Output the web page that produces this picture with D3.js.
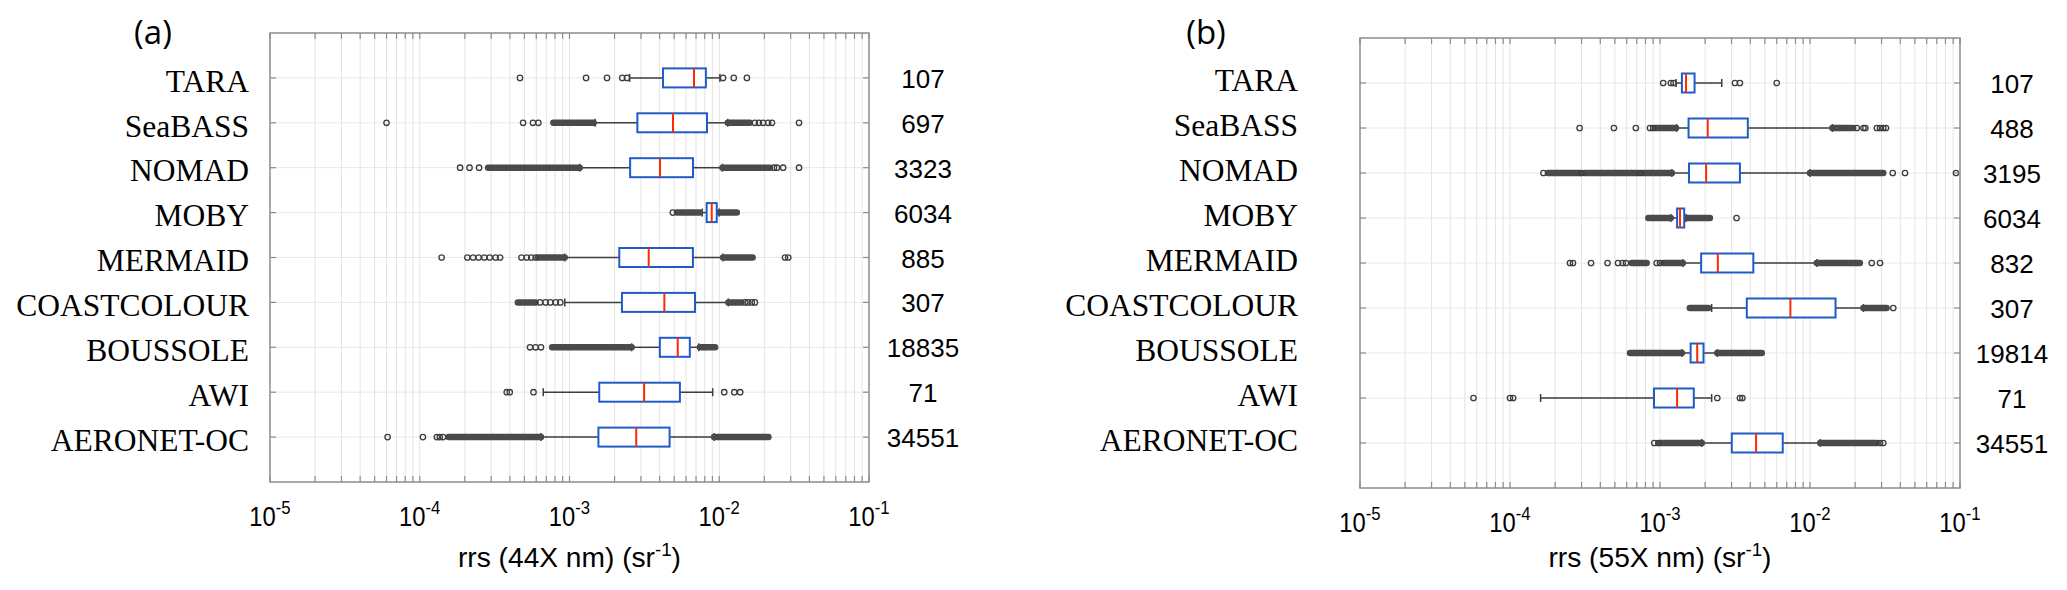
<!DOCTYPE html>
<html>
<head>
<meta charset="utf-8">
<script src="https://cdn.jsdelivr.net/npm/d3@7"></script>
<style>
  body { margin: 0; background: #fff; }
  svg { display: block; }
</style>
</head>
<body>
<div id="chart"></div>
<script>
// Station names, top to bottom
const stations = ["TARA", "SeaBASS", "NOMAD", "MOBY", "MERMAID", "COASTCOLOUR", "BOUSSOLE", "AWI", "AERONET-OC"];

// Number of match-ups per station
const countsA = [107, 697, 3323, 6034, 885, 307, 18835, 71, 34551];
const countsB = [107, 488, 3195, 6034, 832, 307, 19814, 71, 34551];

// [lower whisker, Q1, median, Q3, upper whisker] per station, rrs (sr^-1)
const boxA = [
  [2.52e-3, 4.21e-3, 6.78e-3, 8.14e-3, 1.01e-2],
  [1.48e-3, 2.84e-3, 4.91e-3, 8.28e-3, 1.14e-2],
  [1.17e-3, 2.54e-3, 4.02e-3, 6.68e-3, 1.05e-2],
  [7.70e-3, 8.24e-3, 8.91e-3, 9.62e-3, 1.00e-2],
  [9.30e-4, 2.15e-3, 3.38e-3, 6.67e-3, 1.06e-2],
  [9.30e-4, 2.24e-3, 4.30e-3, 6.89e-3, 1.15e-2],
  [2.60e-3, 4.01e-3, 5.28e-3, 6.36e-3, 7.30e-3],
  [6.68e-4, 1.58e-3, 3.15e-3, 5.46e-3, 9.04e-3],
  [6.45e-4, 1.56e-3, 2.79e-3, 4.66e-3, 9.23e-3]
];
const boxB = [
  [1.28e-3, 1.40e-3, 1.49e-3, 1.70e-3, 2.58e-3],
  [1.29e-3, 1.55e-3, 2.08e-3, 3.85e-3, 1.41e-2],
  [1.20e-3, 1.56e-3, 2.03e-3, 3.41e-3, 1.00e-2],
  [1.18e-3, 1.30e-3, 1.36e-3, 1.45e-3, 1.49e-3],
  [1.42e-3, 1.88e-3, 2.43e-3, 4.19e-3, 1.11e-2],
  [2.21e-3, 3.79e-3, 7.40e-3, 1.48e-2, 2.27e-2],
  [1.40e-3, 1.60e-3, 1.77e-3, 1.95e-3, 2.41e-3],
  [1.60e-4, 9.12e-4, 1.30e-3, 1.68e-3, 2.21e-3],
  [1.90e-3, 3.01e-3, 4.37e-3, 6.58e-3, 1.17e-2]
];

// single outliers
const outliersA = [
  [4.67e-4, 1.29e-3, 1.78e-3, 2.25e-3, 2.42e-3, 1.06e-2, 1.25e-2, 1.53e-2],
  [6.0e-5, 4.9e-4, 5.7e-4, 6.2e-4, 1.73e-2, 1.84e-2, 1.96e-2, 2.12e-2, 2.25e-2, 3.41e-2],
  [1.86e-4, 2.15e-4, 2.49e-4, 2.32e-2, 2.43e-2, 2.67e-2, 3.41e-2],
  [4.90e-3],
  [1.40e-4, 2.08e-4, 2.27e-4, 2.47e-4, 2.70e-4, 2.93e-4, 3.21e-4, 3.44e-4, 4.78e-4, 5.19e-4, 5.56e-4, 5.94e-4, 2.75e-2, 2.89e-2],
  [6.35e-4, 6.92e-4, 7.45e-4, 8.10e-4, 8.68e-4, 1.49e-2, 1.56e-2, 1.65e-2, 1.73e-2],
  [5.45e-4, 5.94e-4, 6.45e-4],
  [3.81e-4, 3.99e-4, 5.75e-4, 1.08e-2, 1.26e-2, 1.38e-2],
  [6.10e-5, 1.05e-4, 1.30e-4, 1.36e-4, 1.43e-4]
];
const outliersB = [
  [1.05e-3, 1.18e-3, 1.23e-3, 3.16e-3, 3.41e-3, 6.0e-3],
  [2.91e-4, 4.93e-4, 6.90e-4, 8.57e-4, 9.0e-4, 2.05e-2, 2.27e-2, 2.34e-2, 2.79e-2, 2.93e-2, 3.08e-2, 3.21e-2],
  [1.67e-4, 3.0e-4, 7.4e-4, 3.56e-2, 4.30e-2, 9.4e-2],
  [3.24e-3],
  [2.51e-4, 2.63e-4, 3.47e-4, 4.47e-4, 5.25e-4, 5.64e-4, 5.93e-4, 9.50e-4, 1.0e-3, 2.58e-2, 2.93e-2],
  [3.59e-2],
  [],
  [5.71e-5, 1.0e-4, 1.05e-4, 2.41e-3, 3.41e-3, 3.54e-3],
  [9.16e-4, 9.75e-4, 2.93e-2, 3.08e-2]
];

// dense runs of overlapping outliers: [from, to]
const runsA = [
  [],
  [[7.8e-4, 1.45e-3], [1.14e-2, 1.60e-2]],
  [[2.86e-4, 1.17e-3], [1.05e-2, 2.18e-2]],
  [[5.22e-3, 7.43e-3], [1.0e-2, 1.31e-2]],
  [[6.16e-4, 9.29e-4], [1.06e-2, 1.67e-2]],
  [[4.52e-4, 5.94e-4], [1.15e-2, 1.41e-2]],
  [[7.66e-4, 2.60e-3], [7.43e-3, 9.38e-3]],
  [],
  [[1.56e-4, 6.45e-4], [9.23e-3, 2.13e-2]]
];
const runsB = [
  [],
  [[9.26e-4, 1.28e-3], [1.41e-2, 1.94e-2]],
  [[1.79e-4, 2.93e-4], [3.16e-4, 7.13e-4], [7.70e-4, 1.20e-3], [1.0e-2, 3.08e-2]],
  [[8.36e-4, 1.18e-3], [1.49e-3, 2.15e-3]],
  [[6.47e-4, 8.15e-4], [1.05e-3, 1.42e-3], [1.11e-2, 2.15e-2]],
  [[1.58e-3, 2.10e-3], [2.27e-2, 3.24e-2]],
  [[6.31e-4, 1.40e-3], [2.41e-3, 4.77e-3]],
  [],
  [[1.0e-3, 1.90e-3], [1.17e-2, 2.79e-2]]
];

// x-axis tick labels (decades)
const decades = [1e-5, 1e-4, 1e-3, 1e-2, 1e-1];

const svg = d3.select("#chart")
  .append("svg")
  .attr("width", 2067)
  .attr("height", 590);

const panels = [
  { tag: "(a)", tagX: 153, x0: 270, x1: 869, y0: 33, y1: 482, labelRight: 249, labelDy: 13.7, countX: 923,
    band: "44X", box: boxA, out: outliersA, runs: runsA, counts: countsA },
  { tag: "(b)", tagX: 1206, x0: 1360, x1: 1960, y0: 38, y1: 488, labelRight: 1298, labelDy: 8.4, countX: 2012,
    band: "55X", box: boxB, out: outliersB, runs: runsB, counts: countsB }
];

const sans = "'Liberation Sans', Arial, sans-serif";
const serif = "'Liberation Serif', 'Times New Roman', serif";

panels.forEach(drawPanel);

function drawPanel(p) {
  const x = d3.scaleLog().domain([1e-5, 1e-1]).range([p.x0, p.x1]);
  const y = d3.scalePoint().domain(stations).range([p.y0, p.y1]).padding(1);
  const g = svg.append("g");
  const allTicks = x.ticks();

  // grid
  g.selectAll("line.vgrid")
    .data(allTicks.filter(d => d > 1e-5 && d < 1e-1))
    .join("line")
    .attr("x1", d => x(d)).attr("x2", d => x(d))
    .attr("y1", p.y0).attr("y2", p.y1)
    .attr("stroke", "#e3e3e3").attr("stroke-width", 1);

  g.selectAll("line.hgrid")
    .data(stations)
    .join("line")
    .attr("x1", p.x0).attr("x2", p.x1)
    .attr("y1", d => y(d)).attr("y2", d => y(d))
    .attr("stroke", "#e8e8e8").attr("stroke-width", 1);

  // boxes
  stations.forEach((st, i) => {
    const cy = y(st);
    const [wl, q1, md, q3, wh] = p.box[i];
    const row = g.append("g");

    row.selectAll("line.whisker")
      .data([[wl, q1], [q3, wh]])
      .join("line")
      .attr("x1", d => x(d[0])).attr("x2", d => x(d[1]))
      .attr("y1", cy).attr("y2", cy)
      .attr("stroke", "#3d3d3d").attr("stroke-width", 1.5);

    row.selectAll("line.cap")
      .data([wl, wh])
      .join("line")
      .attr("x1", d => x(d)).attr("x2", d => x(d))
      .attr("y1", cy - 4).attr("y2", cy + 4)
      .attr("stroke", "#3d3d3d").attr("stroke-width", 1.5);

    row.selectAll("line.run")
      .data(p.runs[i])
      .join("line")
      .attr("x1", d => x(d[0])).attr("x2", d => x(d[1]))
      .attr("y1", cy).attr("y2", cy)
      .attr("stroke", "#4a4a4a").attr("stroke-width", 6.5)
      .attr("stroke-linecap", "round");

    row.selectAll("circle")
      .data(p.out[i])
      .join("circle")
      .attr("cx", d => x(d)).attr("cy", cy)
      .attr("r", 2.7)
      .attr("fill", "none")
      .attr("stroke", "#3d3d3d").attr("stroke-width", 1.3);

    row.append("rect")
      .attr("x", x(q1)).attr("y", cy - 9.5)
      .attr("width", x(q3) - x(q1)).attr("height", 19)
      .attr("fill", "#fff")
      .attr("stroke", "#1f5cc8").attr("stroke-width", 2);

    row.append("line")
      .attr("x1", x(md)).attr("x2", x(md))
      .attr("y1", cy - 9.5).attr("y2", cy + 9.5)
      .attr("stroke", "#ff2a00").attr("stroke-width", 2);
  });

  // frame and ticks
  g.append("rect")
    .attr("x", p.x0).attr("y", p.y0)
    .attr("width", p.x1 - p.x0).attr("height", p.y1 - p.y0)
    .attr("fill", "none").attr("stroke", "#8c8c8c").attr("stroke-width", 1.5);

  const tickLen = 6;
  [[p.y0, 1], [p.y1, -1]].forEach(([yy, dir]) => {
    g.selectAll(null)
      .data(allTicks)
      .join("line")
      .attr("x1", d => x(d)).attr("x2", d => x(d))
      .attr("y1", yy).attr("y2", yy + dir * tickLen)
      .attr("stroke", "#8c8c8c").attr("stroke-width", 1.2);
  });
  [[p.x0, 1], [p.x1, -1]].forEach(([xx, dir]) => {
    g.selectAll(null)
      .data(stations)
      .join("line")
      .attr("x1", xx).attr("x2", xx + dir * tickLen)
      .attr("y1", d => y(d)).attr("y2", d => y(d))
      .attr("stroke", "#8c8c8c").attr("stroke-width", 1.2);
  });

  // x tick labels (slightly condensed, like the original export)
  g.selectAll("text.xtick")
    .data(decades)
    .join("text")
    .attr("transform", d => `translate(${x(d)},${p.y1 + 44}) scale(0.88,1)`)
    .attr("text-anchor", "middle")
    .attr("font-family", sans).attr("font-size", 27)
    .each(function(d) {
      const t = d3.select(this);
      t.append("tspan").text("10");
      t.append("tspan").attr("dy", -12).attr("font-size", 19).text(Math.round(Math.log10(d)));
    });

  // axis title
  const title = g.append("text")
    .attr("x", (p.x0 + p.x1) / 2).attr("y", 567)
    .attr("text-anchor", "middle")
    .attr("font-family", sans).attr("font-size", 27)
    .attr("textLength", 223).attr("lengthAdjust", "spacingAndGlyphs");
  title.append("tspan").text(`rrs (${p.band} nm) (sr`);
  title.append("tspan").attr("dy", -11).attr("font-size", 18).text("-1");
  title.append("tspan").attr("dy", 11).text(")");

  // station labels
  g.selectAll("text.ylab")
    .data(stations)
    .join("text")
    .attr("x", p.labelRight).attr("y", d => y(d) + p.labelDy)
    .attr("text-anchor", "end")
    .attr("font-family", serif).attr("font-size", 31.5)
    .text(d => d);

  // counts
  g.selectAll("text.count")
    .data(p.counts)
    .join("text")
    .attr("x", p.countX).attr("y", (d, i) => y(stations[i]) + 10)
    .attr("text-anchor", "middle")
    .attr("font-family", sans).attr("font-size", 26)
    .text(d => d);

  // panel tag
  g.append("text")
    .attr("x", p.tagX).attr("y", 44)
    .attr("text-anchor", "middle")
    .attr("font-family", "'Open Sans', Lato, sans-serif").attr("font-size", 33)
    .text(p.tag);
}
</script>
</body>
</html>
